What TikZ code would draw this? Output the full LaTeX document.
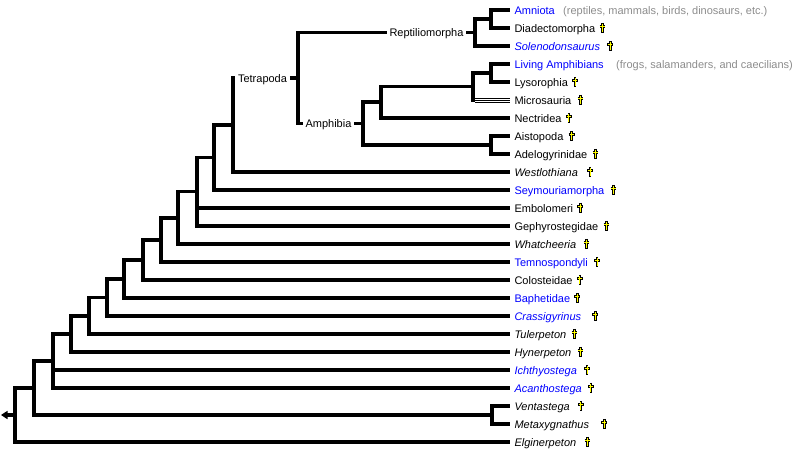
\documentclass[tikz,border=0pt]{standalone}
\usepackage{fontspec}
\setmainfont{Liberation Sans}
\usetikzlibrary{arrows.meta}
\definecolor{taxonblue}{RGB}{0,0,255}
\definecolor{notegray}{RGB}{140,140,140}
\definecolor{dagyellow}{RGB}{255,255,0}
\tikzset{
  branch/.style={line width=3.5pt, line join=miter},
  txt/.style={inner ysep=0pt, text height=9.6pt, text depth=1.6pt, font=\fontsize{11}{12}\selectfont},
  leaf/.style={txt, anchor=west, inner xsep=4.3pt},
  clade/.style={txt, inner xsep=2.6pt},
  note/.style={txt, anchor=west, inner xsep=1pt, text=notegray},
  bluetaxon/.style={text=taxonblue},
  genus/.style={font=\fontsize{11}{12}\selectfont\itshape},
  extinct/.pic={
    \draw[black, line width=2.5pt] (0,-5.2) -- (0,4.6) (-2.9,-1.6) -- (2.9,-1.6);
    \draw[dagyellow, line width=1pt] (0,-4.3) -- (0,3.7) (-2.1,-1.6) -- (2.1,-1.6);
  }
}
\begin{document}
\begin{tikzpicture}[x=1pt,y=-1pt]
\useasboundingbox (0,0) rectangle (809,450);
% leaves
\node[leaf,bluetaxon] (l1) at (510,10) {Amniota};
\node[leaf] (l2) at (510,28) {Diadectomorpha};
\node[leaf,bluetaxon,genus] (l3) at (510,46) {Solenodonsaurus};
\node[leaf,bluetaxon] (l4) at (510,64) {Living Amphibians};
\node[leaf] (l5) at (510,82) {Lysorophia};
\node[leaf] (l6) at (510,100) {Microsauria};
\node[leaf] (l7) at (510,118) {Nectridea};
\node[leaf] (l8) at (510,136) {Aistopoda};
\node[leaf] (l9) at (510,154) {Adelogyrinidae};
\node[leaf,genus] (l10) at (510,172) {Westlothiana};
\node[leaf,bluetaxon] (l11) at (510,190) {Seymouriamorpha};
\node[leaf] (l12) at (510,208) {Embolomeri};
\node[leaf] (l13) at (510,226) {Gephyrostegidae};
\node[leaf,genus] (l14) at (510,244) {Whatcheeria};
\node[leaf,bluetaxon] (l15) at (510,262) {Temnospondyli};
\node[leaf] (l16) at (510,280) {Colosteidae};
\node[leaf,bluetaxon] (l17) at (510,298) {Baphetidae};
\node[leaf,bluetaxon,genus] (l18) at (510,316) {Crassigyrinus};
\node[leaf,genus] (l19) at (510,334) {Tulerpeton};
\node[leaf,genus] (l20) at (510,352) {Hynerpeton};
\node[leaf,bluetaxon,genus] (l21) at (510,370) {Ichthyostega};
\node[leaf,bluetaxon,genus] (l22) at (510,388) {Acanthostega};
\node[leaf,genus] (l23) at (510,406) {Ventastega};
\node[leaf,genus] (l24) at (510,424) {Metaxygnathus};
\node[leaf,genus] (l25) at (510,442) {Elginerpeton};
% notes
\node[note] (n1) at (562,10) {(reptiles, mammals, birds, dinosaurs, etc.)};
\node[note] (n4) at (615,64) {(frogs, salamanders, and caecilians)};
% clade labels
\node[clade] (rep) at (426.5,32.5) {Reptiliomorpha};
\node[clade] (tet) at (262.5,78) {Tetrapoda};
\node[clade] (amph) at (328.5,123.5) {Amphibia};
% internal nodes
\coordinate (A) at (491,19);
\coordinate (R) at (475,32.5);
\coordinate (L) at (491,73);
\coordinate (M) at (473,86.5);
\coordinate (ms) at (474.7,100);
\coordinate (N) at (381,102);
\coordinate (AA) at (491,145);
\coordinate (Am) at (363,123.5);
\coordinate (T) at (298,78);
\coordinate (W) at (233,125);
\coordinate (S) at (214,157.5);
\coordinate (E) at (197,191.5);
\coordinate (Wh) at (178,218);
\coordinate (Te) at (161,240);
\coordinate (Co) at (143,260);
\coordinate (Ba) at (124,279);
\coordinate (Cr) at (107,297.5);
\coordinate (Tu) at (89,316);
\coordinate (Hy) at (71,334);
\coordinate (Ic) at (53,361);
\coordinate (VM) at (492,415);
\coordinate (Ve) at (34,388);
\coordinate (root) at (15,415);
\coordinate (rootend) at (1,415);
% branches
\draw[branch] (A) |- (l1.west) (A) |- (l2.west);
\draw[branch] (R) |- (A) (R) |- (l3.west);
\draw[branch] (rep.east) -- (R);
\draw[branch] (L) |- (l4.west) (L) |- (l5.west);
\draw[branch] (M) |- (L);
\draw[branch, line cap=rect] (M) -- (M |- l6.west);
\draw[line width=5pt] (ms) -- (l6.west);
\draw[white, line width=3pt] (ms) -- (l6.west);
\draw[line width=1pt] (ms) -- (l6.west);
\draw[branch] (N) |- (M) (N) |- (l7.west);
\draw[branch] (AA) |- (l8.west) (AA) |- (l9.west);
\draw[branch] (Am) |- (N) (Am) |- (AA);
\draw[branch] (amph.east) -- (Am);
\draw[branch] (T) |- (rep.west) (T) |- (amph.west);
\draw[branch] (tet.east) -- (T);
\draw[branch] (W) |- (tet.west) (W) |- (l10.west);
\draw[branch] (S) |- (W) (S) |- (l11.west);
\draw[branch] (E) |- (S) (E) |- (l12.west) (E) |- (l13.west);
\draw[branch] (Wh) |- (E) (Wh) |- (l14.west);
\draw[branch] (Te) |- (Wh) (Te) |- (l15.west);
\draw[branch] (Co) |- (Te) (Co) |- (l16.west);
\draw[branch] (Ba) |- (Co) (Ba) |- (l17.west);
\draw[branch] (Cr) |- (Ba) (Cr) |- (l18.west);
\draw[branch] (Tu) |- (Cr) (Tu) |- (l19.west);
\draw[branch] (Hy) |- (Tu) (Hy) |- (l20.west);
\draw[branch] (Ic) |- (Hy) (Ic) |- (l21.west) (Ic) |- (l22.west);
\draw[branch] (VM) |- (l23.west) (VM) |- (l24.west);
\draw[branch] (Ve) |- (Ic) (Ve) |- (VM);
\draw[branch] (root) |- (Ve) (root) |- (l25.west);
\draw[branch, -{Triangle[length=6.5pt,width=8pt]}] (root) -- (rootend);
% extinct markers
\pic at ([xshift=2.7pt]l2.east) {extinct};
\pic at ([xshift=5.7pt]l3.east) {extinct};
\pic at ([xshift=2.7pt]l5.east) {extinct};
\pic at ([xshift=4.7pt]l6.east) {extinct};
\pic at ([xshift=2.7pt]l7.east) {extinct};
\pic at ([xshift=3.7pt]l8.east) {extinct};
\pic at ([xshift=3.7pt]l9.east) {extinct};
\pic at ([xshift=7.7pt]l10.east) {extinct};
\pic at ([xshift=4.7pt]l11.east) {extinct};
\pic at ([xshift=2.7pt]l12.east) {extinct};
\pic at ([xshift=3.7pt]l13.east) {extinct};
\pic at ([xshift=5.7pt]l14.east) {extinct};
\pic at ([xshift=4.7pt]l15.east) {extinct};
\pic at ([xshift=2.7pt]l16.east) {extinct};
\pic at ([xshift=2.7pt]l17.east) {extinct};
\pic at ([xshift=9.7pt]l18.east) {extinct};
\pic at ([xshift=3.7pt]l19.east) {extinct};
\pic at ([xshift=4.7pt]l20.east) {extinct};
\pic at ([xshift=5.7pt]l21.east) {extinct};
\pic at ([xshift=4.7pt]l22.east) {extinct};
\pic at ([xshift=6.7pt]l23.east) {extinct};
\pic at ([xshift=10.7pt]l24.east) {extinct};
\pic at ([xshift=6.7pt]l25.east) {extinct};
\end{tikzpicture}
\end{document}
